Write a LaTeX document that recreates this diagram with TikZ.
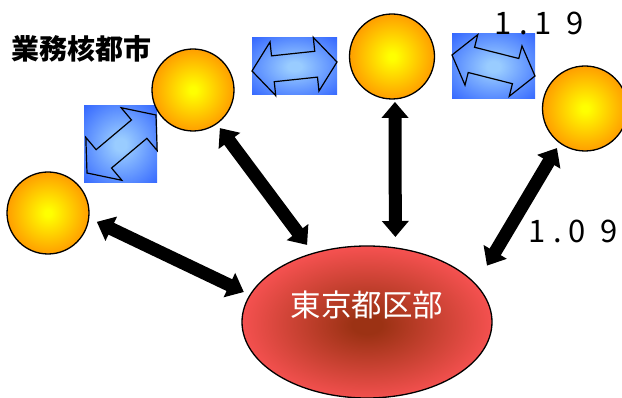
\documentclass[tikz,border=0pt]{standalone}
\usepackage{fontspec}
\newfontfamily\jp{Noto Sans CJK JP}
\usetikzlibrary{shapes.geometric,arrows.meta,calc}
\definecolor{orb1}{HTML}{FFFF00}
\definecolor{orb2}{HTML}{FF9A00}
\definecolor{red1}{HTML}{9C3214}
\definecolor{red2}{HTML}{F85252}
\definecolor{blu1}{HTML}{99CCFF}
\definecolor{blu2}{HTML}{3366FF}
\pgfdeclareradialshading{orbsh}{\pgfpointorigin}{color(0bp)=(orb1); color(2bp)=(orb1); color(26bp)=(orb2); color(50bp)=(orb2)}
\pgfdeclareradialshading{redsh}{\pgfpoint{0bp}{-1bp}}{color(0bp)=(red1); color(3bp)=(red1); color(26bp)=(red2); color(50bp)=(red2)}
\pgfdeclareradialshading{blush}{\pgfpointorigin}{color(0bp)=(blu1); color(4bp)=(blu1); color(36bp)=(blu2); color(60bp)=(blu2)}
\tikzset{
  orb/.style={circle, draw=black, line width=1.3pt, shade, shading=orbsh, inner sep=0pt, outer sep=0pt},
  bluebox/.style={rectangle, shade, shading=blush, inner sep=0pt, outer sep=0pt},
  blkarrow/.style={draw=black, line width=1.2pt, line join=miter},
  bigarr/.style={line width=13pt, {Triangle[length=16pt,width=26pt]}-{Triangle[length=16pt,width=26pt]}},
  lbl/.style={font=\jp, inner sep=0pt}
}
\newcommand\blockarr[5]{%
  \coordinate (ha) at ($(#1)!#3!(#2)$);
  \coordinate (hb) at ($(#2)!#3!(#1)$);
  \draw[blkarrow] (#1) -- ($(ha)!#4!90:(#2)$) -- ($(ha)!#5!90:(#2)$) -- ($(hb)!#5!-90:(#1)$) -- ($(hb)!#4!-90:(#1)$) -- (#2)
     -- ($(hb)!#4!90:(#1)$) -- ($(hb)!#5!90:(#1)$) -- ($(ha)!#5!-90:(#2)$) -- ($(ha)!#4!-90:(#2)$) -- cycle;}
\begin{document}
\begin{tikzpicture}[x=1pt,y=-1pt]
\useasboundingbox (0,0) rectangle (622,398);
% blue boxes with block double arrows
\node[bluebox, minimum width=73pt, minimum height=77pt] (b1) at (120.5,144.5) {};
\node[bluebox, minimum width=85pt, minimum height=57pt] (b2) at (294.5,66.5) {};
\node[bluebox, minimum width=83pt, minimum height=65pt] (b3) at (493.5,66.5) {};
\coordinate (b1a) at (87,173); \coordinate (b1b) at (156,115);
\coordinate (b2a) at (252,71); \coordinate (b2b) at (337,62);
\coordinate (b3a) at (452,55); \coordinate (b3b) at (535,76);
\blockarr{b1a}{b1b}{22pt}{28pt}{12pt}
\blockarr{b2a}{b2b}{21pt}{27pt}{13pt}
\blockarr{b3a}{b3b}{20pt}{26pt}{13pt}
% circles
\node[orb, minimum size=82pt] (c1) at (48,213) {};
\node[orb, minimum size=82pt] (c2) at (193,90) {};
\node[orb, minimum size=85pt] (c3) at (392,56.5) {};
\node[orb, minimum size=85pt] (c4) at (585,108.5) {};
% central ellipse
\node[ellipse, draw=black, line width=1.3pt, shade, shading=redsh, minimum width=250pt, minimum height=152pt, inner sep=0pt, outer sep=0pt] (ell) at (367,322) {};
\node[lbl, text=white, font=\jp\fontsize{30.5}{30.5}\selectfont] (tokyo) at (367,305) {東京都区部};
% big black double arrows
\draw[bigarr, shorten <=9pt, shorten >=7pt] (c1.-7) -- (ell.167.5);
\draw[bigarr, shorten <=5.6pt, shorten >=10.5pt] (c2.-55) -- (ell.128);
\draw[bigarr, shorten <=3pt, shorten >=11pt] (c3.-86) -- (ell.69.3);
\draw[bigarr, shorten <=6pt, shorten >=22pt] (c4.234) -- (ell.19.5);
% labels
\node[lbl, font=\jp\bfseries\fontsize{28}{28}\selectfont] (title) at (82,49) {業務核都市};
\node[lbl, anchor=west, font=\jp\fontsize{31}{31}\selectfont] (v1) at (494,23.5) {1\hspace{8pt}.\hspace{6.6pt}1\hspace{14.5pt}9};
\node[lbl, anchor=west, font=\jp\fontsize{31}{31}\selectfont] (v2) at (528,231.5) {1\hspace{8pt}.\hspace{6.6pt}0\hspace{14.5pt}9};
\end{tikzpicture}
\end{document}
